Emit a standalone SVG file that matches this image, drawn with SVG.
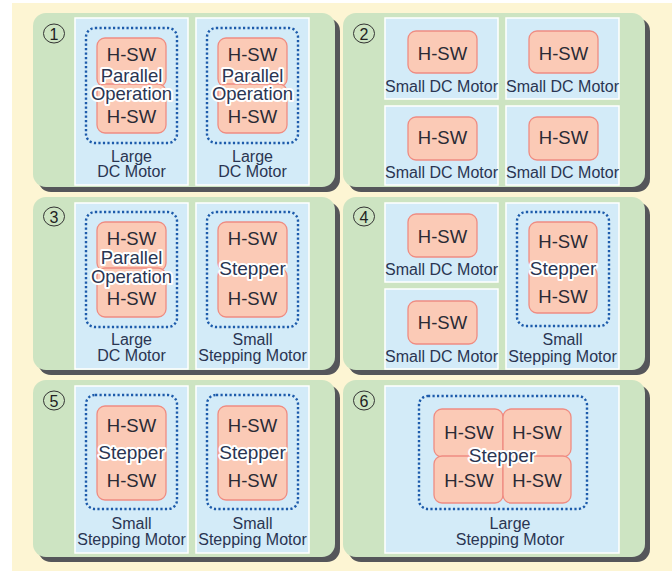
<svg xmlns="http://www.w3.org/2000/svg" width="672" height="571" viewBox="0 0 672 571">
<style>
.bg{fill:#fdf5d3}
.shadow{fill:#55565a}
.panel{fill:#cde4c2}
.box{fill:#d3ebf8;stroke:#ffffff;stroke-width:1.5}
.dot{fill:none;stroke:#1d5bab;stroke-width:2.4;stroke-dasharray:2.2 2.3}
.hsw{fill:#fbcab6;stroke:#ef8c82;stroke-width:1.3}
.num{fill:none;stroke:#333;stroke-width:1}
text{font-family:"Liberation Sans",Arial,sans-serif;fill:#2a3552;text-anchor:middle}
.t{font-size:18.5px;fill:#2a2a35}
.h{font-size:18.5px;stroke:#ffffff;stroke-width:4;stroke-linejoin:round;paint-order:stroke}
.s{font-size:19px;stroke:#ffffff;stroke-width:4;stroke-linejoin:round;paint-order:stroke}
.l{font-size:16px}
.n{font-size:16px;fill:#222}
</style>
<rect x="0" y="0" width="672" height="571" fill="#ffffff"/>
<rect class="bg" x="12" y="3" width="660" height="568"/>

<g id="panel1">
<rect class="shadow" x="38" y="18" width="302" height="174" rx="13"/>
<rect class="panel" x="33" y="13" width="302" height="174" rx="13"/>
<ellipse class="num" cx="54" cy="33.5" rx="10.5" ry="9.5"/><text class="n" x="54" y="39.5">1</text>
<g id="p1-motor1">
<rect class="box" x="75" y="18" width="113" height="167"/>
<rect class="dot" x="86" y="28" width="91" height="115" rx="9"/>
<rect class="hsw" x="97" y="38" width="69" height="49" rx="8"/>
<rect class="hsw" x="97" y="84" width="69" height="49" rx="8"/>
<text class="t" x="131.5" y="61">H-SW</text>
<text class="t" x="131.5" y="123">H-SW</text>
<text class="h" x="131.5" y="82">Parallel</text>
<text class="h" x="131.5" y="100">Operation</text>
<text class="l" x="131.5" y="162">Large</text>
<text class="l" x="131.5" y="177">DC Motor</text>
</g>
<g id="p1-motor2">
<rect class="box" x="196" y="18" width="113" height="167"/>
<rect class="dot" x="207" y="28" width="91" height="115" rx="9"/>
<rect class="hsw" x="218" y="38" width="69" height="49" rx="8"/>
<rect class="hsw" x="218" y="84" width="69" height="49" rx="8"/>
<text class="t" x="252.5" y="61">H-SW</text>
<text class="t" x="252.5" y="123">H-SW</text>
<text class="h" x="252.5" y="82">Parallel</text>
<text class="h" x="252.5" y="100">Operation</text>
<text class="l" x="252.5" y="162">Large</text>
<text class="l" x="252.5" y="177">DC Motor</text>
</g>
</g>

<g id="panel2">
<rect class="shadow" x="348" y="18" width="302" height="174" rx="13"/>
<rect class="panel" x="343" y="13" width="302" height="174" rx="13"/>
<ellipse class="num" cx="364" cy="33.5" rx="10.5" ry="9.5"/><text class="n" x="364" y="39.5">2</text>
<g id="p2-motor1">
<rect class="box" x="385" y="18" width="113" height="81"/>
<rect class="hsw" x="408" y="31" width="69" height="42" rx="8"/>
<text class="t" x="442.5" y="60">H-SW</text>
<text class="l" x="441.5" y="92">Small DC Motor</text>
</g>
<g id="p2-motor2">
<rect class="box" x="506" y="18" width="113" height="81"/>
<rect class="hsw" x="529" y="31" width="69" height="42" rx="8"/>
<text class="t" x="563.5" y="60">H-SW</text>
<text class="l" x="562.5" y="92">Small DC Motor</text>
</g>
<g id="p2-motor3">
<rect class="box" x="385" y="106" width="113" height="79"/>
<rect class="hsw" x="408" y="117" width="69" height="43" rx="8"/>
<text class="t" x="442.5" y="144">H-SW</text>
<text class="l" x="441.5" y="178">Small DC Motor</text>
</g>
<g id="p2-motor4">
<rect class="box" x="506" y="106" width="113" height="79"/>
<rect class="hsw" x="529" y="117" width="69" height="43" rx="8"/>
<text class="t" x="563.5" y="144">H-SW</text>
<text class="l" x="562.5" y="178">Small DC Motor</text>
</g>
</g>

<g id="panel3">
<rect class="shadow" x="38" y="202" width="302" height="173" rx="13"/>
<rect class="panel" x="33" y="197" width="302" height="173" rx="13"/>
<ellipse class="num" cx="54" cy="216.5" rx="10.5" ry="9.5"/><text class="n" x="54" y="222.5">3</text>
<g id="p3-motor1">
<rect class="box" x="75" y="203" width="113" height="166"/>
<rect class="dot" x="86" y="212" width="91" height="115" rx="9"/>
<rect class="hsw" x="97" y="222" width="69" height="49" rx="8"/>
<rect class="hsw" x="97" y="268" width="69" height="49" rx="8"/>
<text class="t" x="131.5" y="245">H-SW</text>
<text class="t" x="131.5" y="305">H-SW</text>
<text class="h" x="131.5" y="264">Parallel</text>
<text class="h" x="131.5" y="283">Operation</text>
<text class="l" x="131.5" y="345">Large</text>
<text class="l" x="131.5" y="361">DC Motor</text>
</g>
<g id="p3-motor2">
<rect class="box" x="196" y="203" width="113" height="166"/>
<rect class="dot" x="207" y="212" width="91" height="115" rx="9"/>
<rect class="hsw" x="218" y="222" width="69" height="49" rx="8"/>
<rect class="hsw" x="218" y="268" width="69" height="49" rx="8"/>
<text class="t" x="252.5" y="245">H-SW</text>
<text class="t" x="252.5" y="305">H-SW</text>
<text class="s" x="252.5" y="275">Stepper</text>
<text class="l" x="252.5" y="345">Small</text>
<text class="l" x="252.5" y="361">Stepping Motor</text>
</g>
</g>

<g id="panel4">
<rect class="shadow" x="348" y="202" width="302" height="173" rx="13"/>
<rect class="panel" x="343" y="197" width="302" height="173" rx="13"/>
<ellipse class="num" cx="364" cy="216.5" rx="10.5" ry="9.5"/><text class="n" x="364" y="222.5">4</text>
<g id="p4-motor1">
<rect class="box" x="385" y="203" width="113" height="79"/>
<rect class="hsw" x="408" y="214" width="69" height="43" rx="8"/>
<text class="t" x="442.5" y="243">H-SW</text>
<text class="l" x="441.5" y="275">Small DC Motor</text>
</g>
<g id="p4-motor2">
<rect class="box" x="385" y="289" width="113" height="80"/>
<rect class="hsw" x="408" y="301" width="69" height="43" rx="8"/>
<text class="t" x="442.5" y="329">H-SW</text>
<text class="l" x="441.5" y="362">Small DC Motor</text>
</g>
<g id="p4-motor3">
<rect class="box" x="506" y="203" width="113" height="166"/>
<rect class="dot" x="517" y="212" width="92" height="114" rx="9"/>
<rect class="hsw" x="529" y="222" width="68" height="47" rx="8"/>
<rect class="hsw" x="529" y="266" width="68" height="47" rx="8"/>
<text class="t" x="563" y="248">H-SW</text>
<text class="t" x="563" y="303">H-SW</text>
<text class="s" x="563" y="275">Stepper</text>
<text class="l" x="562.5" y="345">Small</text>
<text class="l" x="562.5" y="362">Stepping Motor</text>
</g>
</g>

<g id="panel5">
<rect class="shadow" x="38" y="385" width="302" height="177" rx="13"/>
<rect class="panel" x="33" y="380" width="302" height="177" rx="13"/>
<ellipse class="num" cx="54" cy="400.5" rx="10.5" ry="9.5"/><text class="n" x="54" y="406.5">5</text>
<g id="p5-motor1">
<rect class="box" x="75" y="386" width="113" height="167"/>
<rect class="dot" x="86" y="395" width="91" height="114" rx="9"/>
<rect class="hsw" x="97" y="406" width="69" height="94" rx="8"/>
<text class="t" x="131.5" y="432">H-SW</text>
<text class="t" x="131.5" y="487">H-SW</text>
<text class="s" x="131.5" y="459">Stepper</text>
<text class="l" x="131.5" y="529">Small</text>
<text class="l" x="131.5" y="545">Stepping Motor</text>
</g>
<g id="p5-motor2">
<rect class="box" x="196" y="386" width="113" height="167"/>
<rect class="dot" x="207" y="395" width="91" height="114" rx="9"/>
<rect class="hsw" x="218" y="406" width="69" height="94" rx="8"/>
<text class="t" x="252.5" y="432">H-SW</text>
<text class="t" x="252.5" y="487">H-SW</text>
<text class="s" x="252.5" y="459">Stepper</text>
<text class="l" x="252.5" y="529">Small</text>
<text class="l" x="252.5" y="545">Stepping Motor</text>
</g>
</g>

<g id="panel6">
<rect class="shadow" x="348" y="385" width="302" height="177" rx="13"/>
<rect class="panel" x="343" y="380" width="302" height="177" rx="13"/>
<ellipse class="num" cx="364" cy="400.5" rx="10.5" ry="9.5"/><text class="n" x="364" y="406.5">6</text>
<g id="p6-motor1">
<rect class="box" x="385" y="386" width="234" height="167"/>
<rect class="dot" x="419" y="396" width="168" height="113" rx="9"/>
<rect class="hsw" x="434" y="409" width="69" height="48" rx="8"/>
<rect class="hsw" x="503" y="409" width="68" height="48" rx="8"/>
<rect class="hsw" x="434" y="456" width="69" height="47" rx="8"/>
<rect class="hsw" x="503" y="456" width="68" height="47" rx="8"/>
<text class="t" x="469" y="439">H-SW</text>
<text class="t" x="537" y="439">H-SW</text>
<text class="t" x="469" y="487">H-SW</text>
<text class="t" x="537" y="487">H-SW</text>
<text class="s" x="502" y="462">Stepper</text>
<text class="l" x="510" y="529">Large</text>
<text class="l" x="510" y="545">Stepping Motor</text>
</g>
</g>
</svg>
